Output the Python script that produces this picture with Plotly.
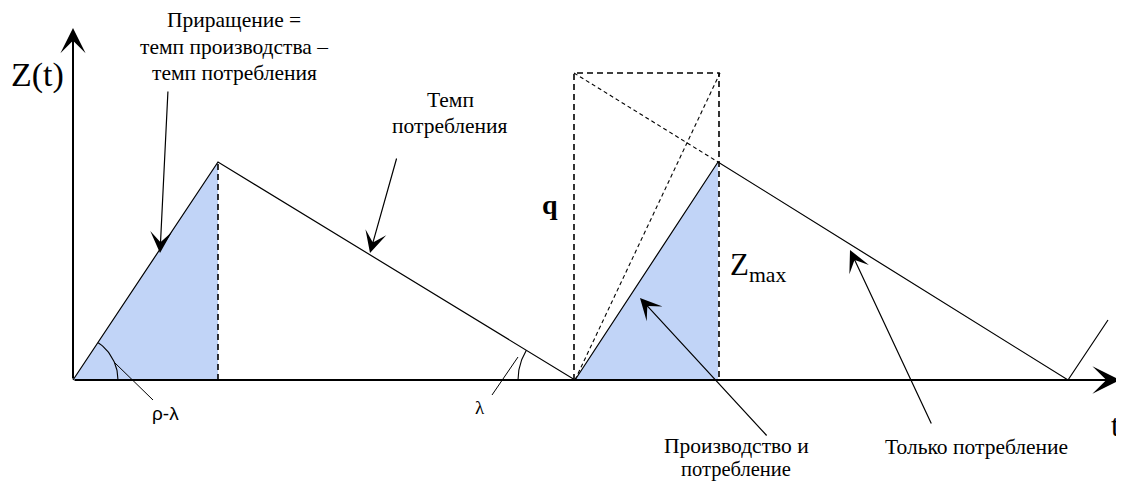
import numpy as np
import plotly.graph_objects as go

# ---- data (diagram units: t along x, Z along y; origin at the axes crossing) ----
t_stock = [0, 145, 502, 645, 995, 1035]
z_stock = [0, 218, 0, 218, 0, 60]

fill1_t = [0, 145, 145]
fill1_z = [0, 218, 0]
fill2_t = [502, 645, 645]
fill2_z = [0, 218, 0]

q_level = 307
q_left_t = 501
q_right_t = 646
peak1_t = 145
peak_z = 218

cons_ext_t = [501, 645]        # consumption-rate line extended back to q
cons_ext_z = [307, 218]
prod_t = [502, 647]            # production-rate line rho
prod_z = [0, 307]

axis_t_end = 1047
axis_z_end = 352

arc1_center = (0, 0)
arc1_radius = 45
arc1_deg = [0, 56]
arc2_center = (502, 0)
arc2_radius = 57
arc2_deg = [148.6, 180]

lead1_t = [42, 80]
lead1_z = [17, -20]
lead2_t = [419, 445]
lead2_z = [-15, 23]

SERIF = "Liberation Serif, Times New Roman, Tinos, serif"
FILL = "#c1d4f7"

fig = go.Figure()

fig.add_trace(go.Scatter(x=fill1_t, y=fill1_z, fill="toself", fillcolor=FILL,
                         line=dict(width=0), mode="lines", hoverinfo="skip"))
fig.add_trace(go.Scatter(x=fill2_t, y=fill2_z, fill="toself", fillcolor=FILL,
                         line=dict(width=0), mode="lines", hoverinfo="skip"))

dash_v = dict(color="black", width=1.6, dash="6px,4px")
dash_d = dict(color="black", width=1.1, dash="4px,3px")

# dashed verticals and q rectangle
fig.add_trace(go.Scatter(x=[peak1_t, peak1_t], y=[0, peak_z], mode="lines", line=dash_v))
fig.add_trace(go.Scatter(x=[q_left_t, q_left_t, q_right_t, q_right_t],
                         y=[0, q_level, q_level, 0], mode="lines", line=dash_v))
fig.add_trace(go.Scatter(x=cons_ext_t, y=cons_ext_z, mode="lines", line=dash_d))
fig.add_trace(go.Scatter(x=prod_t, y=prod_z, mode="lines", line=dash_d))

# inventory curve
fig.add_trace(go.Scatter(x=t_stock, y=z_stock, mode="lines",
                         line=dict(color="black", width=1.2)))

# angle arcs
for (cx, cz), r, (a0, a1) in [(arc1_center, arc1_radius, arc1_deg),
                              (arc2_center, arc2_radius, arc2_deg)]:
    ang = np.radians(np.linspace(a0, a1, 30))
    fig.add_trace(go.Scatter(x=cx + r * np.cos(ang), y=cz + r * np.sin(ang),
                             mode="lines", line=dict(color="black", width=1.1)))

fig.add_trace(go.Scatter(x=lead1_t, y=lead1_z, mode="lines", line=dict(color="black", width=1)))
fig.add_trace(go.Scatter(x=lead2_t, y=lead2_z, mode="lines", line=dict(color="black", width=1)))

annotations = []


def arrow(x0, y0, x1, y1, width=1.0, size=2.0, head=3):
    annotations.append(dict(x=x1, y=y1, ax=x0, ay=y0, xref="x", yref="y",
                            axref="x", ayref="y", text="", showarrow=True,
                            arrowhead=head, arrowsize=size, arrowwidth=width,
                            arrowcolor="black", standoff=0, startstandoff=0))


def label(x, y, text, size=21.5, family=SERIF, xanchor="center", yanchor="middle"):
    annotations.append(dict(x=x, y=y, xref="x", yref="y", text=text, showarrow=False,
                            font=dict(family=family, size=size, color="black"),
                            xanchor=xanchor, yanchor=yanchor, align="center"))


# axes
arrow(0, 0, axis_t_end, 0, width=2, size=2.3)
arrow(0, 0, 0, axis_z_end, width=2, size=2.1)

# callout arrows
arrow(95, 290, 87, 127, width=1.2, size=3)
arrow(324, 223, 297, 127, width=1.2, size=3)
arrow(695, -57, 567, 82, width=1.2, size=3)
arrow(859, -45, 777, 130, width=1.2, size=3)

# labels
label(161, 360, "Приращение =")
label(161, 333, "темп производства –")
label(161, 307, "темп потребления")
label(377, 280, "Темп")
label(377, 254, "потребления")
label(663, -66, "Производство и")
label(663, -89, "потребление", size=20.5)
label(903, -67, "Только потребление")
label(-36, 305, "Z(t)", size=34)
label(1042, -45, "t", size=31)
label(477, 176, "<b>q</b>", size=28)
label(655, 113, "Z<sub>max</sub>", size=31, xanchor="left")
label(92, -33, "ρ-λ", size=19, family="Liberation Sans, Arial, sans-serif")
label(407, -27, "λ", size=19, family="Liberation Serif, serif")

# figure placed inside the page body (8px default margin): map window pixels to data
fig.update_layout(
    width=1116, height=474,
    margin=dict(l=0, r=0, t=0, b=0),
    paper_bgcolor="white", plot_bgcolor="white",
    showlegend=False,
    font=dict(family=SERIF),
    xaxis=dict(range=[-65, 1051], visible=False, fixedrange=True),
    yaxis=dict(range=[-102, 372], visible=False, fixedrange=True),
    annotations=annotations,
)

fig.write_html("out.html")
